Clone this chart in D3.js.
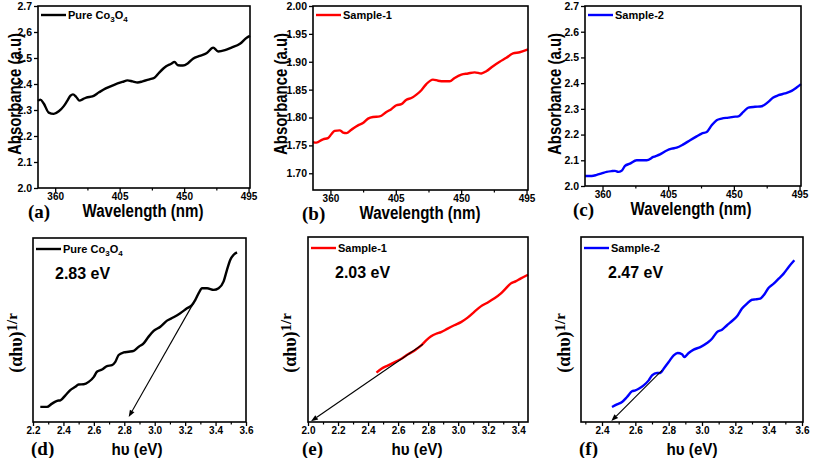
<!DOCTYPE html>
<html><head><meta charset="utf-8">
<script src="https://cdn.jsdelivr.net/npm/d3@7"></script>
<style>body{margin:0;background:#fff}svg{display:block}</style>
</head><body><svg id="c" width="813" height="458"></svg>
<script>
// ---------- DATA ----------
const waveA = [348,349.6,352,355.5,359,362.5,366,368.4,370.7,372.4,374.7,377,379.4,381.7,386,390.6,395.3,401.2,407,410.5,414,417.6,421,425.8,429.3,432.8,437.5,441,443.3,445.7,449.2,452.7,456.2,460.9,465.6,470.3,473.8,478.5,483.1,489,493.7,496];
const absA = [2.335,2.34,2.325,2.29,2.285,2.295,2.315,2.335,2.355,2.36,2.35,2.336,2.342,2.348,2.352,2.368,2.383,2.397,2.408,2.414,2.41,2.406,2.41,2.418,2.424,2.445,2.468,2.478,2.485,2.472,2.471,2.48,2.497,2.508,2.518,2.54,2.525,2.53,2.54,2.555,2.578,2.585];
const waveB = [348,350.3,354.9,358.3,360.6,362.9,366.4,368.7,371,374.4,379,382.4,385.9,389.3,393.9,398.5,401.9,405.4,408.8,412.3,415.7,419.2,422.6,426,430.6,434.1,438.7,442.1,445.5,450.1,454.7,459.3,463.9,467.3,471.9,476.5,481.1,485.7,490.3,496];
const absB = [1.756,1.755,1.761,1.763,1.770,1.776,1.777,1.773,1.772,1.778,1.786,1.790,1.798,1.801,1.802,1.810,1.815,1.822,1.824,1.832,1.835,1.841,1.849,1.860,1.868,1.866,1.865,1.865,1.871,1.877,1.879,1.881,1.879,1.883,1.892,1.900,1.907,1.915,1.917,1.922];
const waveC = [348,352.6,356,359.4,362.8,366.3,368.6,370.8,373.1,375.4,378.8,383.4,386.8,390.3,394.8,399.4,404,407.4,410.8,415.4,420,424.5,427.9,431.4,434.8,438.2,441.6,446.2,449.6,453.1,456.5,459.9,464.5,469.1,473.6,477,480.5,485,489.6,493,496];
const absC = [2.039,2.039,2.043,2.049,2.055,2.058,2.059,2.055,2.059,2.078,2.087,2.100,2.100,2.100,2.113,2.123,2.138,2.145,2.149,2.162,2.178,2.193,2.204,2.210,2.236,2.256,2.262,2.266,2.269,2.271,2.288,2.305,2.308,2.310,2.327,2.344,2.353,2.360,2.370,2.383,2.396];

const hvD = [2.248,2.292,2.325,2.358,2.38,2.413,2.445,2.478,2.5,2.533,2.566,2.6,2.62,2.654,2.686,2.719,2.741,2.763,2.796,2.829,2.862,2.895,2.927,2.96,2.993,3.037,3.081,3.124,3.168,3.212,3.245,3.267,3.289,3.311,3.344,3.388,3.42,3.453,3.475,3.497,3.519,3.541];
const tD = [0.082,0.082,0.1,0.115,0.118,0.145,0.173,0.191,0.204,0.205,0.218,0.245,0.273,0.285,0.304,0.309,0.327,0.364,0.378,0.382,0.387,0.409,0.427,0.464,0.495,0.518,0.551,0.569,0.591,0.618,0.636,0.664,0.7,0.727,0.727,0.718,0.727,0.764,0.827,0.882,0.909,0.922];
const hvE = [2.456,2.489,2.534,2.578,2.622,2.666,2.71,2.754,2.787,2.82,2.853,2.886,2.93,2.974,3.019,3.063,3.107,3.151,3.195,3.239,3.283,3.316,3.349,3.382,3.415,3.465];
const tE = [0.267,0.288,0.306,0.324,0.342,0.366,0.387,0.414,0.441,0.463,0.477,0.486,0.505,0.523,0.54,0.564,0.595,0.625,0.645,0.667,0.694,0.721,0.748,0.76,0.775,0.796];
const hvF = [2.46,2.49,2.52,2.55,2.58,2.6,2.62,2.65,2.68,2.7,2.73,2.75,2.77,2.8,2.83,2.854,2.88,2.894,2.92,2.95,2.99,3.03,3.06,3.09,3.12,3.15,3.18,3.21,3.24,3.27,3.3,3.32,3.35,3.37,3.4,3.43,3.46,3.49,3.52,3.554];
const tF = [0.081,0.095,0.108,0.135,0.166,0.171,0.18,0.198,0.225,0.252,0.265,0.265,0.288,0.324,0.36,0.373,0.366,0.351,0.373,0.391,0.405,0.427,0.45,0.486,0.499,0.523,0.546,0.571,0.613,0.64,0.661,0.663,0.667,0.685,0.726,0.748,0.775,0.802,0.838,0.874];

// tangent (extrapolation) lines: [start, arrow tip] in data units
const tangentD = [[3.252,0.642],[2.829,0.027]];
const tangentE = [[2.765,0.42],[2.02,0.004]];
const tangentF = [[2.76,0.279],[2.456,0.005]];

const bandGaps = ["2.83 eV","2.03 eV","2.47 eV"];
const waveTicks = [360,405,450,495];
const waveMinor = [382.5,427.5,472.5];
const absTicksAC = [2.0,2.1,2.2,2.3,2.4,2.5,2.6,2.7];
const absTicksB = [1.70,1.75,1.80,1.85,1.90,1.95,2.00];
const hvTicksD = [2.2,2.4,2.6,2.8,3.0,3.2,3.4,3.6];
const hvTicksE = [2.0,2.2,2.4,2.6,2.8,3.0,3.2,3.4];
const hvTicksF = [2.4,2.6,2.8,3.0,3.2,3.4,3.6];

// ---------- DRAW ----------
const svg = d3.select("#c");
const SANS = "Arial, 'Liberation Sans', Helvetica, sans-serif";
const SERIF = "'Times New Roman', 'Liberation Serif', serif";

function fitText(sel, len){ sel.attr("textLength", len).attr("lengthAdjust","spacingAndGlyphs"); }

function panel(o){
  const g = svg.append("g");
  const x = d3.scaleLinear().domain(o.xDomain).range([o.l, o.r]);
  const y = d3.scaleLinear().domain(o.yDomain).range([o.b, o.t]);
  const xa = g.append("g").attr("transform",`translate(0,${o.b})`)
    .call(d3.axisBottom(x).tickValues(o.xTicks).tickSize(4).tickPadding(1).tickFormat(o.xFmt));
  xa.select(".domain").remove();
  xa.selectAll("line").attr("stroke","#000").attr("stroke-width",1.3);
  xa.selectAll("text").attr("font-family",SANS).attr("font-weight","bold").attr("font-size",10).attr("fill","#000");
  if(o.xMinor){
    const xm = g.append("g").attr("transform",`translate(0,${o.b})`)
      .call(d3.axisBottom(x).tickValues(o.xMinor).tickSize(2.5).tickFormat(""));
    xm.select(".domain").remove();
    xm.selectAll("line").attr("stroke","#000").attr("stroke-width",1.2);
  }
  if(o.yTicks){
    const ya = g.append("g").attr("transform",`translate(${o.l},0)`)
      .call(d3.axisLeft(y).tickValues(o.yTicks).tickSize(4).tickPadding(2).tickFormat(o.yFmt));
    ya.select(".domain").remove();
    ya.selectAll("line").attr("stroke","#000").attr("stroke-width",1.3);
    ya.selectAll("text").attr("font-family",SANS).attr("font-weight","bold").attr("font-size",10.5).attr("fill","#000");
  }
  const pts = o.xs.map((v,i)=>[v,o.ys[i]]);
  g.append("path").datum(pts)
    .attr("d", d3.line().x(d=>x(d[0])).y(d=>y(d[1])).curve(d3.curveMonotoneX))
    .attr("fill","none").attr("stroke",o.color).attr("stroke-width",2.4).attr("stroke-linejoin","round");
  if(o.tangent){
    const [p0,p1] = o.tangent;
    const x0=x(p0[0]), y0=y(p0[1]), x1=x(p1[0]), y1=y(p1[1]);
    const ang = Math.atan2(y1-y0, x1-x0);
    const hl = 7, hw = 2.6;
    const bx = x1 - hl*Math.cos(ang), by = y1 - hl*Math.sin(ang);
    g.append("line").attr("x1",x0).attr("y1",y0).attr("x2",bx).attr("y2",by)
      .attr("stroke","#000").attr("stroke-width",1.1);
    g.append("path").attr("d",`M${x1},${y1}L${bx - hw*Math.sin(ang)},${by + hw*Math.cos(ang)}L${bx + hw*Math.sin(ang)},${by - hw*Math.cos(ang)}Z`)
      .attr("fill","#000");
  }
  g.append("rect").attr("x",o.l).attr("y",o.t).attr("width",o.r-o.l).attr("height",o.b-o.t)
    .attr("fill","none").attr("stroke","#000").attr("stroke-width",1.6);
  const ly = o.t + (o.bottomRow ? 11 : 9);
  g.append("line").attr("x1",o.l+3).attr("x2",o.l+28).attr("y1",ly).attr("y2",ly)
    .attr("stroke",o.color).attr("stroke-width",2.4);
  const lt = g.append("text").attr("x",o.l+30).attr("y",ly+4).attr("font-family",SANS)
    .attr("font-weight","bold").attr("font-size",11).attr("fill","#000");
  o.legend(lt);
  if(o.gap){
    g.append("text").attr("x",o.gapX).attr("y",o.t+41).attr("font-family",SANS).attr("font-weight","bold")
      .attr("font-size",16).attr("fill","#000").text(o.gap);
  }
  const xt = g.append("text").attr("x",o.xtX).attr("y",o.b+(o.bottomRow?33:29)).attr("text-anchor","middle")
    .attr("font-family",SANS).attr("font-weight","bold").attr("font-size",o.bottomRow?17:18).attr("fill","#000").text(o.xTitle);
  fitText(xt, o.xTitleLen);
  if(o.bottomRow){
    const yt = g.append("text").attr("transform",`translate(${o.ytX},${o.ytY}) rotate(-90)`).attr("text-anchor","middle")
      .attr("font-family",SERIF).attr("font-weight","bold").attr("font-size",18).attr("fill","#000");
    yt.append("tspan").text("(αhυ)");
    yt.append("tspan").attr("dy",-5).attr("font-size",15).text("1/r");
  } else {
    const yt = g.append("text").attr("transform",`translate(${o.ytX},${o.ytY}) rotate(-90)`).attr("text-anchor","middle")
      .attr("font-family",SANS).attr("font-weight","bold").attr("font-size",18).attr("fill","#000").text("Absorbance (a.u)");
    fitText(yt, 122);
  }
  g.append("text").attr("x",o.labX).attr("y",o.b+(o.bottomRow?33:30)).attr("font-family",SERIF).attr("font-weight","bold")
    .attr("font-size",19).attr("fill","#000").text(o.label);
}

function coLegend(t){
  t.append("tspan").text("Pure Co");
  t.append("tspan").attr("font-size",8).attr("dy",3).text("3");
  t.append("tspan").attr("dy",-3).text("O");
  t.append("tspan").attr("font-size",8).attr("dy",3).text("4");
}

const f1 = d3.format(".1f"), f2 = d3.format(".2f"), f0 = d3.format("d");

panel({l:38,r:250,t:6,b:188,xDomain:[348,496],yDomain:[2.0,2.7],xs:waveA,ys:absA,color:"#000",
  xTicks:waveTicks,xMinor:waveMinor,xFmt:f0,yTicks:absTicksAC,yFmt:f1,legend:coLegend,
  xTitle:"Wavelength (nm)",xTitleLen:121,xtX:143,ytX:21,ytY:94,label:"(a)",labX:28});
panel({l:313,r:528,t:6,b:190,xDomain:[348,496],yDomain:[1.67,2.0],xs:waveB,ys:absB,color:"#ff0000",
  xTicks:waveTicks,xMinor:waveMinor,xFmt:f0,yTicks:absTicksB,yFmt:f2,legend:t=>t.text("Sample-1"),
  xTitle:"Wavelength (nm)",xTitleLen:121,xtX:420,ytX:287,ytY:94,label:"(b)",labX:302});
panel({l:585,r:801,t:6,b:186,xDomain:[348,496],yDomain:[2.0,2.7],xs:waveC,ys:absC,color:"#0000ff",
  xTicks:waveTicks,xMinor:waveMinor,xFmt:f0,yTicks:absTicksAC,yFmt:f1,legend:t=>t.text("Sample-2"),
  xTitle:"Wavelength (nm)",xTitleLen:121,xtX:691,ytX:561,ytY:94,label:"(c)",labX:573});

panel({bottomRow:true,l:33,r:246,t:238,b:422,xDomain:[2.2,3.6],yDomain:[0,1],xs:hvD,ys:tD,color:"#000",
  xTicks:hvTicksD,xMinor:[2.3,2.5,2.7,2.9,3.1,3.3,3.5],xFmt:f1,legend:coLegend,tangent:tangentD,
  gap:bandGaps[0],gapX:55,xTitle:"hυ (eV)",xTitleLen:51,xtX:137,ytX:22,ytY:343,label:"(d)",labX:31});
panel({bottomRow:true,l:308,r:528,t:237,b:422,xDomain:[2.0,3.465],yDomain:[0,1],xs:hvE,ys:tE,color:"#ff0000",
  xTicks:hvTicksE,xMinor:[2.1,2.3,2.5,2.7,2.9,3.1,3.3],xFmt:f1,legend:t=>t.text("Sample-1"),tangent:tangentE,
  gap:bandGaps[1],gapX:335,xTitle:"hυ (eV)",xTitleLen:51,xtX:417,ytX:296,ytY:343,label:"(e)",labX:302});
panel({bottomRow:true,l:581,r:803,t:237,b:422,xDomain:[2.274,3.606],yDomain:[0,1],xs:hvF,ys:tF,color:"#0000ff",
  xTicks:hvTicksF,xMinor:[2.3,2.5,2.7,2.9,3.1,3.3,3.5],xFmt:f1,legend:t=>t.text("Sample-2"),tangent:tangentF,
  gap:bandGaps[2],gapX:608,xTitle:"hυ (eV)",xTitleLen:51,xtX:692,ytX:570,ytY:343,label:"(f)",labX:579});
</script></body></html>
